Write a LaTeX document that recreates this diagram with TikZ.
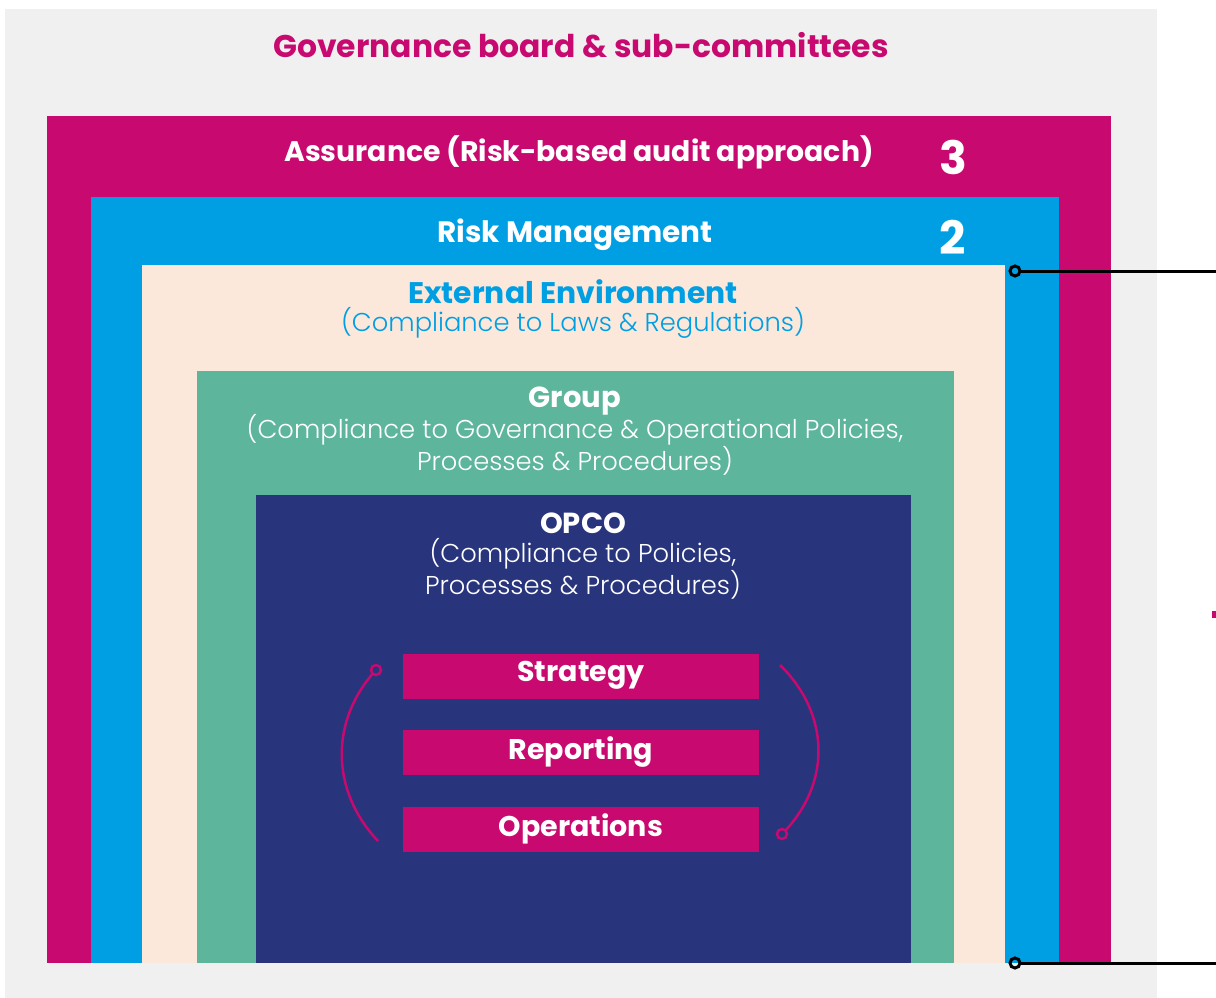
\documentclass[tikz,border=0pt]{standalone}
\usepackage{fontspec}
\usetikzlibrary{calc}
\setmainfont{Poppins}
\newfontfamily\lightfont{Poppins Light}
\newfontfamily\boldfont{Poppins Bold}
\definecolor{magentaC}{HTML}{C8096F}
\definecolor{blueC}{HTML}{009FE3}
\definecolor{peachC}{HTML}{FCE8DA}
\definecolor{greenC}{HTML}{5DB59C}
\definecolor{navyC}{HTML}{28347C}
\definecolor{greyC}{HTML}{F0F0F0}
\tikzset{
  layer/.style={draw=none, inner sep=0pt, outer sep=0pt, anchor=north west},
  headtxt/.style={font=\boldfont\fontsize{29}{32}\selectfont, inner sep=0pt, anchor=center},
  subtxt/.style={font=\lightfont\fontsize{25.8}{32}\selectfont, inner sep=0pt, anchor=center, align=center},
  bartxt/.style={font=\boldfont\fontsize{28.5}{30}\selectfont, text=white, inner sep=0pt},
  numtxt/.style={font=\boldfont\fontsize{46}{50}\selectfont, text=white, inner sep=0pt},
  arcline/.style={magentaC, line width=2.5pt},
  endring/.style={magentaC, line width=2.5pt},
  leader/.style={black, line width=3pt},
  leadring/.style={black, line width=3pt},
}
\begin{document}
\begin{tikzpicture}[x=1pt, y=-1pt]
\useasboundingbox (0,0) rectangle (1216,998);
% nested layers, outermost first
\fill[greyC] (5,9) rectangle (1157,998);
\node[layer, fill=magentaC, minimum width=1064pt, minimum height=847pt] (assur) at (47,116) {};
\node[layer, fill=blueC, minimum width=968pt, minimum height=766pt] (risk) at (91,197) {};
\node[layer, fill=peachC, minimum width=863pt, minimum height=698pt] (ext) at (142,265) {};
\node[layer, fill=greenC, minimum width=757pt, minimum height=592pt] (grp) at (197,371) {};
\node[layer, fill=navyC, minimum width=655pt, minimum height=468pt] (opco) at (256,495) {};

% headings
\node[headtxt, text=magentaC, font=\boldfont\fontsize{31.4}{32}\selectfont] (tgov) at (581,45) {Governance board \& sub-committees};
\node[headtxt, text=white, font=\boldfont\fontsize{28.3}{32}\selectfont] (tassur) at (579,152) {Assurance (Risk-based audit approach)};
\node[numtxt] (n3) at (953,157) {3};
\node[headtxt, text=white, font=\boldfont\fontsize{29.5}{32}\selectfont] (trisk) at (575,235) {Risk Management};
\node[numtxt] (n2) at (953,237) {2};
\node[headtxt, text=blueC, font=\boldfont\fontsize{29.8}{32}\selectfont] (text) at (573,292) {External Environment};
\node[subtxt, text=blueC] (sext) at (573,323) {(Compliance to Laws \& Regulations)};
\node[headtxt, text=white] (tgrp) at (575,401) {Group};
\node[subtxt, text=white] (sgrp) at (575,445) {(Compliance to Governance \& Operational Policies,\\Processes \& Procedures)};
\node[headtxt, text=white] (topco) at (583,523) {OPCO};
\node[subtxt, text=white] (sopco) at (583,569) {(Compliance to Policies,\\Processes \& Procedures)};

% objective bars
\foreach \nm/\lbl/\yy in {strat/Strategy/654, rep/Reporting/730, ops/Operations/807}{
  \node[layer, fill=magentaC, minimum width=356pt, minimum height=45pt] (\nm) at (403,\yy) {};
  \node[bartxt] (\nm-t) at ($(\nm.center)+(0,-1)$) {\lbl};
}

% arcs around the bars
\coordinate (la) at (376,670);
\coordinate (lb) at (378,841);
\coordinate (ra) at (780,665);
\coordinate (rb) at (782,834);
\draw[arcline] (la) .. controls (330,720) and (330,790) .. (lb);
\draw[arcline] (ra) .. controls (831,715) and (831,785) .. (rb);
\draw[endring, fill=navyC] (la) circle (5pt);
\draw[endring, fill=navyC] (rb) circle (5pt);

% leader lines to the right margin
\coordinate (ptop) at (1015,271);
\coordinate (pbot) at (1015,963);
\coordinate (etop) at (1216,271);
\coordinate (ebot) at (1216,963);
\draw[leader] ([xshift=5pt]ptop) -- (etop);
\draw[leader] ([xshift=5pt]pbot) -- (ebot);
\draw[leadring] (ptop) circle (5pt);
\draw[leadring] (pbot) circle (5pt);

% small mark at the right edge
\fill[magentaC] (1212,611) rectangle (1216,618);
\end{tikzpicture}
\end{document}
